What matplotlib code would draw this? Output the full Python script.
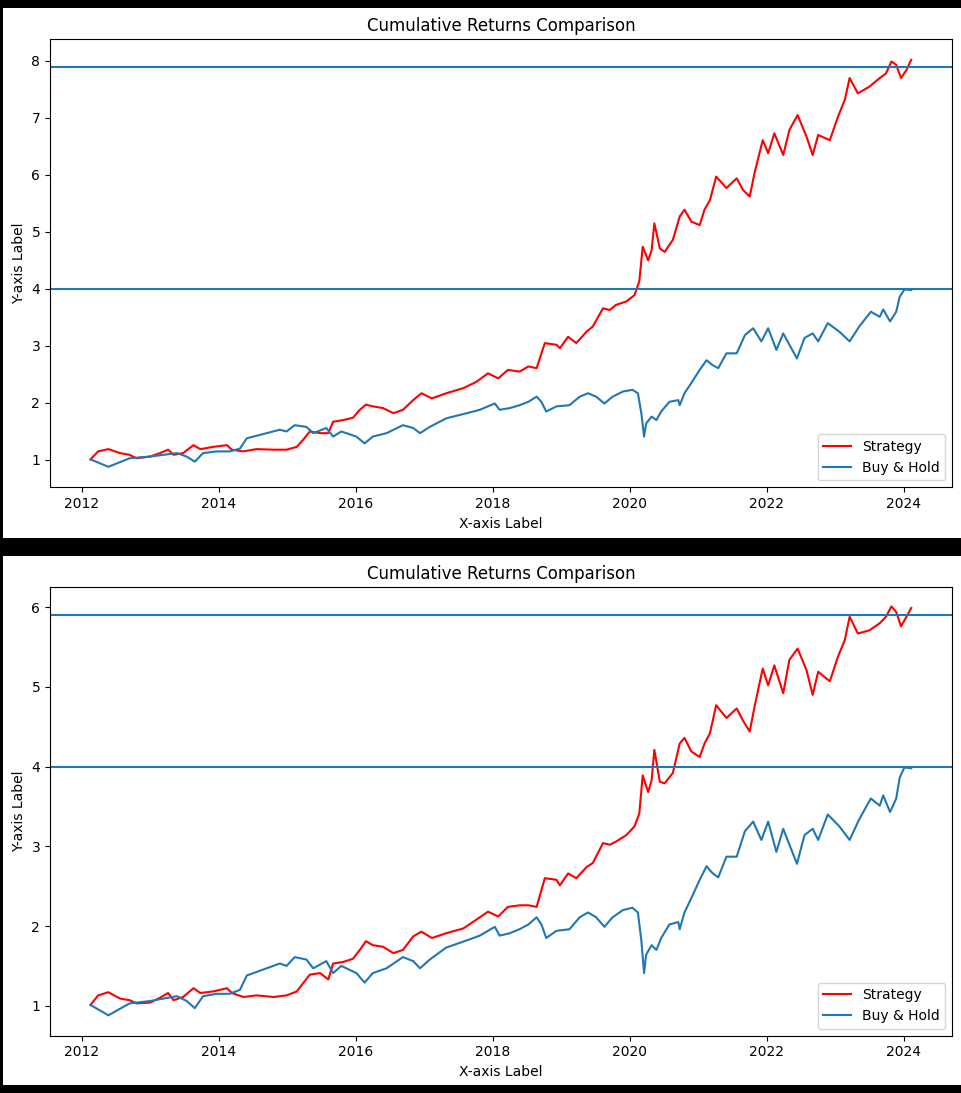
import pandas as pd
import matplotlib
matplotlib.use("Agg")
import matplotlib.pyplot as plt
from matplotlib.patches import Rectangle

# dates as decimal years
strat_years = [2012.13, 2012.24, 2012.39, 2012.56, 2012.70, 2012.80, 2013.00, 2013.14, 2013.26, 2013.34,
               2013.48, 2013.63, 2013.73, 2013.92, 2014.12, 2014.19, 2014.36, 2014.55, 2014.80, 2014.99,
               2015.14, 2015.23, 2015.33, 2015.48, 2015.60, 2015.67, 2015.82, 2015.96, 2016.06, 2016.15,
               2016.25, 2016.40, 2016.55, 2016.69, 2016.84, 2016.96, 2017.11, 2017.32, 2017.57, 2017.76,
               2017.93, 2018.08, 2018.22, 2018.39, 2018.52, 2018.64, 2018.76, 2018.93, 2018.98, 2019.10,
               2019.22, 2019.37, 2019.46, 2019.61, 2019.71, 2019.80, 2019.95, 2020.07, 2020.14, 2020.19,
               2020.27, 2020.32, 2020.36, 2020.44, 2020.51, 2020.63, 2020.73, 2020.80, 2020.90, 2021.02,
               2021.09, 2021.17, 2021.26, 2021.41, 2021.56, 2021.65, 2021.75, 2021.82, 2021.94, 2022.02,
               2022.11, 2022.24, 2022.33, 2022.45, 2022.58, 2022.67, 2022.75, 2022.92, 2023.04, 2023.14,
               2023.21, 2023.33, 2023.50, 2023.65, 2023.74, 2023.82, 2023.89, 2023.96, 2024.04, 2024.11]

strategy_a = [1.01, 1.15, 1.19, 1.12, 1.09, 1.03, 1.06, 1.12, 1.18, 1.09,
              1.12, 1.26, 1.19, 1.23, 1.26, 1.18, 1.15, 1.19, 1.18, 1.18,
              1.23, 1.35, 1.50, 1.47, 1.47, 1.67, 1.70, 1.74, 1.88, 1.97,
              1.94, 1.91, 1.82, 1.88, 2.05, 2.17, 2.08, 2.17, 2.26, 2.37,
              2.52, 2.43, 2.58, 2.55, 2.64, 2.61, 3.05, 3.02, 2.96, 3.16,
              3.05, 3.25, 3.34, 3.66, 3.63, 3.72, 3.78, 3.89, 4.13, 4.74,
              4.50, 4.68, 5.15, 4.71, 4.65, 4.86, 5.27, 5.39, 5.18, 5.12,
              5.39, 5.56, 5.97, 5.77, 5.94, 5.74, 5.62, 6.03, 6.61, 6.38,
              6.73, 6.35, 6.79, 7.05, 6.67, 6.35, 6.70, 6.61, 7.02, 7.32,
              7.70, 7.43, 7.55, 7.70, 7.78, 7.99, 7.93, 7.70, 7.84, 8.02]

strategy_b = [1.01, 1.13, 1.17, 1.09, 1.07, 1.03, 1.04, 1.10, 1.16, 1.07,
              1.11, 1.22, 1.16, 1.18, 1.22, 1.16, 1.11, 1.13, 1.11, 1.13,
              1.18, 1.28, 1.39, 1.41, 1.33, 1.53, 1.55, 1.59, 1.70, 1.81,
              1.76, 1.74, 1.66, 1.70, 1.87, 1.93, 1.85, 1.91, 1.97, 2.08,
              2.18, 2.12, 2.24, 2.26, 2.26, 2.24, 2.60, 2.58, 2.51, 2.66,
              2.60, 2.74, 2.79, 3.04, 3.02, 3.06, 3.14, 3.25, 3.41, 3.89,
              3.68, 3.83, 4.21, 3.81, 3.79, 3.92, 4.29, 4.36, 4.19, 4.12,
              4.29, 4.42, 4.77, 4.61, 4.73, 4.58, 4.44, 4.75, 5.23, 5.02,
              5.27, 4.92, 5.34, 5.48, 5.21, 4.90, 5.19, 5.07, 5.38, 5.59,
              5.88, 5.67, 5.71, 5.80, 5.88, 6.01, 5.94, 5.76, 5.88, 5.99]

bh_years = [2012.13, 2012.39, 2012.70, 2013.00, 2013.19, 2013.39, 2013.53, 2013.65, 2013.77, 2013.97,
            2014.16, 2014.31, 2014.41, 2014.70, 2014.89, 2014.99, 2015.11, 2015.28, 2015.38, 2015.57,
            2015.67, 2015.79, 2016.01, 2016.13, 2016.25, 2016.45, 2016.69, 2016.84, 2016.94, 2017.08,
            2017.32, 2017.62, 2017.81, 2018.03, 2018.10, 2018.25, 2018.39, 2018.52, 2018.64, 2018.71,
            2018.78, 2018.93, 2019.12, 2019.27, 2019.39, 2019.51, 2019.63, 2019.75, 2019.90, 2020.04,
            2020.12, 2020.17, 2020.21, 2020.24, 2020.32, 2020.39, 2020.46, 2020.58, 2020.71, 2020.73,
            2020.80, 2020.90, 2021.02, 2021.12, 2021.20, 2021.29, 2021.41, 2021.56, 2021.68, 2021.80,
            2021.92, 2022.02, 2022.14, 2022.24, 2022.44, 2022.55, 2022.67, 2022.75, 2022.89, 2023.06,
            2023.21, 2023.35, 2023.52, 2023.65, 2023.70, 2023.80, 2023.89, 2023.94, 2024.01, 2024.11]

buy_hold = [1.01, 0.88, 1.03, 1.06, 1.09, 1.12, 1.06, 0.97, 1.12, 1.15,
            1.15, 1.20, 1.38, 1.47, 1.53, 1.50, 1.61, 1.58, 1.47, 1.56,
            1.41, 1.50, 1.41, 1.29, 1.41, 1.47, 1.61, 1.56, 1.47, 1.58,
            1.73, 1.82, 1.88, 1.99, 1.88, 1.91, 1.96, 2.02, 2.11, 2.02,
            1.85, 1.94, 1.96, 2.11, 2.17, 2.11, 1.99, 2.11, 2.20, 2.23,
            2.17, 1.82, 1.41, 1.64, 1.76, 1.70, 1.85, 2.02, 2.05, 1.96,
            2.17, 2.35, 2.58, 2.75, 2.67, 2.61, 2.87, 2.87, 3.19, 3.31,
            3.08, 3.31, 2.93, 3.22, 2.78, 3.14, 3.22, 3.08, 3.40, 3.25,
            3.08, 3.34, 3.60, 3.51, 3.64, 3.43, 3.60, 3.86, 3.99, 3.98]

hlines_a = [7.9, 4.0]
hlines_b = [5.9, 4.0]


def to_dates(years):
    return [pd.Timestamp(int(y), 1, 1) + pd.Timedelta(days=(y - int(y)) * 365.25) for y in years]


strat_dates = to_dates(strat_years)
bh_dates = to_dates(bh_years)
xlim = to_dates([2011.537, 2024.71])

fig = plt.figure(figsize=(9.61, 10.93), dpi=100, facecolor="black")

# white backgrounds of the two screenshots, kept behind the axes
fig.patches.append(Rectangle((0.003, 0.5078), 0.997, 0.4849, transform=fig.transFigure,
                             facecolor="white", edgecolor="none", zorder=-10))
fig.patches.append(Rectangle((0.003, 0.0073), 0.997, 0.4840, transform=fig.transFigure,
                             facecolor="white", edgecolor="none", zorder=-10))

panels = [
    ([0.052, 0.5542, 0.939, 0.4099], strategy_a, hlines_a, (0.521, 8.38)),
    ([0.052, 0.0524, 0.939, 0.4103], strategy_b, hlines_b, (0.624, 6.25)),
]

for rect, strat, hl, ylim in panels:
    ax = fig.add_axes(rect)
    ax.set_zorder(5)
    ax.plot(strat_dates, strat, color="red", label="Strategy")
    ax.plot(bh_dates, buy_hold, color="#1f77b4", label="Buy & Hold")
    for h in hl:
        ax.axhline(h, color="#1f77b4")
    ax.set_xlim(xlim)
    ax.set_ylim(ylim)
    ax.set_title("Cumulative Returns Comparison")
    ax.set_xlabel("X-axis Label")
    ax.set_ylabel("Y-axis Label")
    ax.legend(loc="lower right")

fig.savefig("out.png", dpi=100, facecolor=fig.get_facecolor())
